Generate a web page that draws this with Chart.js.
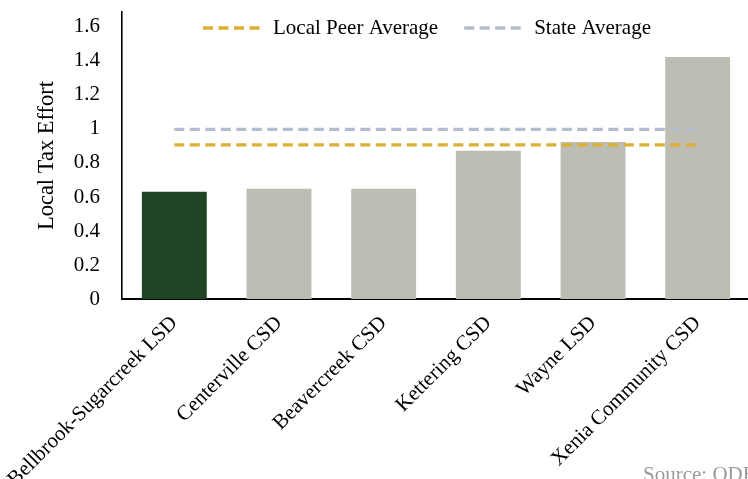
<!DOCTYPE html>
<html>
<head>
<meta charset="utf-8">
<script src="https://cdn.jsdelivr.net/npm/chart.js@4.4.1/dist/chart.umd.min.js"></script>
<style>
  html, body { margin: 0; padding: 0; background: #fff; overflow: hidden; }
  #wrap { width: 750px; height: 479px; position: relative; }
</style>
</head>
<body>
<div id="wrap"><canvas id="chart"></canvas></div>
<script>
// data
const districts = ['Bellbrook-Sugarcreek LSD', 'Centerville CSD', 'Beavercreek CSD', 'Kettering CSD', 'Wayne LSD', 'Xenia Community CSD'];
const taxEffort = [0.631, 0.649, 0.649, 0.872, 0.924, 1.424];
const peerAverage = 0.906;
const stateAverage = 0.998;
const yTicks = [0, 0.2, 0.4, 0.6, 0.8, 1, 1.2, 1.4, 1.6];

const FONT = 'Liberation Serif, Times New Roman, serif';
const GREEN = '#1f4525';
const GRAY = '#bdbdb3';
const GOLD = '#dab035';
const STEEL = '#b3bdcd';

// legend drawn inside the plot, above the bars
const legendPlugin = {
  id: 'innerLegend',
  afterDraw(chart) {
    const ctx = chart.ctx;
    const area = chart.chartArea;
    const items = chart.data.datasets.filter(d => d.type === 'line');
    ctx.save();
    ctx.font = '21px ' + FONT;
    const lineW = 60, gap = 10, spacing = 26;
    const widths = items.map(d => lineW + gap + ctx.measureText(d.label).width);
    const total = widths.reduce((a, b) => a + b, 0) + spacing * (items.length - 1);
    let x = (area.left + area.right) / 2 - total / 2 - 9;
    const y = area.top + 16;
    items.forEach((d, i) => {
      ctx.strokeStyle = d.borderColor;
      ctx.lineWidth = d.borderWidth;
      ctx.setLineDash(d.borderDash);
      ctx.beginPath();
      ctx.moveTo(x, y);
      ctx.lineTo(x + lineW, y);
      ctx.stroke();
      ctx.setLineDash([]);
      ctx.fillStyle = '#000';
      ctx.textBaseline = 'middle';
      ctx.fillText(d.label, x + lineW + gap, y);
      x += widths[i] + spacing;
    });
    // source note, cut by the right edge like the original
    ctx.fillStyle = '#9a9a9a';
    ctx.textBaseline = 'alphabetic';
    ctx.fillText('Source: ODE', 643, 481);
    ctx.restore();
  }
};

new Chart(document.getElementById('chart'), {
  data: {
    labels: districts,
    datasets: [
      {
        type: 'line',
        label: 'Local Peer Average',
        data: districts.map(() => peerAverage),
        borderColor: GOLD,
        borderWidth: 3.3,
        borderDash: [10, 5.5],
        pointRadius: 0,
        order: 0
      },
      {
        type: 'line',
        label: 'State Average',
        data: districts.map(() => stateAverage),
        borderColor: STEEL,
        borderWidth: 3.3,
        borderDash: [10, 5.5],
        pointRadius: 0,
        order: 0
      },
      {
        type: 'bar',
        label: 'Local Tax Effort',
        data: taxEffort,
        backgroundColor: districts.map((d, i) => i === 0 ? GREEN : GRAY),
        barPercentage: 0.62,
        categoryPercentage: 1,
        order: 1
      }
    ]
  },
  options: {
    responsive: true,
    maintainAspectRatio: false,
    animation: false,
    layout: { padding: { top: 12, left: 30, right: 0, bottom: 0 } },
    scales: {
      x: {
        grid: { display: false },
        border: { color: '#000', width: 2 },
        ticks: {
          color: '#000',
          font: { family: FONT, size: 21 },
          maxRotation: 45,
          minRotation: 45,
          autoSkip: false,
          padding: 4
        },
        afterFit(scale) {
          scale.height = 180;
          scale.paddingLeft = 0;
          scale.paddingRight = 0;
        }
      },
      y: {
        min: 0,
        max: 1.688,
        grid: { display: false },
        border: { color: '#000', width: 1.6 },
        ticks: {
          color: '#000',
          font: { family: FONT, size: 21 },
          padding: 14,
          callback: v => String(v)
        },
        afterBuildTicks(scale) { scale.ticks = yTicks.map(v => ({ value: v })); },
        title: {
          display: true,
          text: 'Local Tax Effort',
          color: '#000',
          font: { family: FONT, size: 22.5 }
        },
        afterFit(scale) {
          scale.width = 92;
          scale.paddingTop = 0;
          scale.paddingBottom = 0;
        }
      }
    },
    plugins: {
      legend: { display: false },
      tooltip: { enabled: false }
    }
  },
  plugins: [legendPlugin]
});
</script>
</body>
</html>
